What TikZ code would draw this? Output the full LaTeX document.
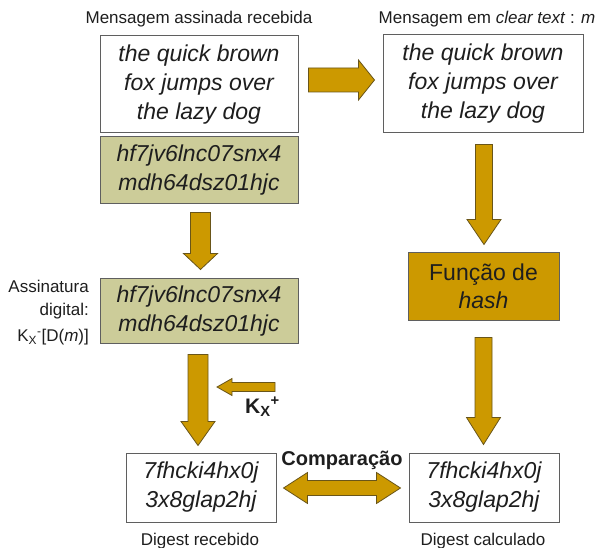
\documentclass[tikz,border=0pt]{standalone}
\usepackage{fontspec}
\setmainfont{Liberation Sans}
\usetikzlibrary{calc}

\definecolor{arrowgold}{RGB}{204,153,0}
\definecolor{sigfill}{RGB}{204,204,153}
\definecolor{goldedge}{RGB}{105,85,25}
\definecolor{boxedge}{RGB}{95,95,95}
\definecolor{ink}{RGB}{30,30,30}

\tikzset{
  msgbox/.style={draw=boxedge, line width=1pt, fill=white, inner sep=0pt,
    align=center, text=ink, font=\fontsize{23}{29}\selectfont\itshape},
  sigbox/.style={msgbox, fill=sigfill},
  hashbox/.style={msgbox, fill=arrowgold, font=\fontsize{23}{28}\selectfont},
  caption/.style={inner sep=0pt, text=ink, font=\fontsize{17}{23}\selectfont},
  boldlabel/.style={inner sep=0pt, text=ink, font=\fontsize{20}{24}\selectfont\bfseries},
  arrowbody/.style={draw=goldedge, line width=0.8pt, fill=arrowgold, line join=miter},
}

% block arrow: from, to, shaft half-width, head half-width, head length
\newcommand\blockarrow[5]{%
  \path let \p1=(#1), \p2=(#2),
    \n1={atan2(\y2-\y1,\x2-\x1)}, \n2={veclen(\x2-\x1,\y2-\y1)} in
    \pgfextra{\pgfmathparse{\n1}\xdef\baAngle{\pgfmathresult}%
              \pgfmathparse{\n2}\xdef\baLen{\pgfmathresult}};
  \draw[arrowbody, shift={(#1)}, rotate=\baAngle]
    (0,-#3) -- ({\baLen-#5},-#3) -- ({\baLen-#5},-#4) -- (\baLen,0)
    -- ({\baLen-#5},#4) -- ({\baLen-#5},#3) -- (0,#3) -- cycle;
}
% double-headed block arrow, same arguments
\newcommand\dblarrow[5]{%
  \path let \p1=(#1), \p2=(#2),
    \n1={atan2(\y2-\y1,\x2-\x1)}, \n2={veclen(\x2-\x1,\y2-\y1)} in
    \pgfextra{\pgfmathparse{\n1}\xdef\baAngle{\pgfmathresult}%
              \pgfmathparse{\n2}\xdef\baLen{\pgfmathresult}};
  \draw[arrowbody, shift={(#1)}, rotate=\baAngle]
    (0,0) -- (#5,-#4) -- (#5,-#3) -- ({\baLen-#5},-#3) -- ({\baLen-#5},-#4)
    -- (\baLen,0) -- ({\baLen-#5},#4) -- ({\baLen-#5},#3) -- (#5,#3)
    -- (#5,#4) -- cycle;
}

\begin{document}
\begin{tikzpicture}[x=1pt, y=-1pt]
  \useasboundingbox[fill=white] (0,0) rectangle (600,548);

  % captions above the two columns
  \node[caption, anchor=base] (received) at (199,24) {Mensagem assinada recebida};
  \node[caption, anchor=base] (cleartext) at (487,24)
    {Mensagem em \textit{clear text} : \textit{m}};

  % received message and its signature
  \node[msgbox, minimum width=198pt, minimum height=97pt] (msg1) at (199,84.5)
    {the quick brown\\fox jumps over\\the lazy dog};
  \node[sigbox, minimum width=198pt, minimum height=67pt] (sig1) at (199,170.5)
    {hf7jv6lnc07snx4\\mdh64dsz01hjc};
  \node[sigbox, minimum width=198pt, minimum height=64pt] (sig2) at (199,311)
    {hf7jv6lnc07snx4\\mdh64dsz01hjc};
  \node[caption, anchor=north east, align=right] (siglabel) at (89,280)
    {Assinatura\\digital:\\[3pt]K\textsubscript{X}\textsuperscript{-}[D(\textit{m})]};

  % clear text and hash function
  \node[msgbox, minimum width=200pt, minimum height=98pt] (msg2) at (483,84)
    {the quick brown\\fox jumps over\\the lazy dog};
  \node[hashbox, minimum width=151pt, minimum height=67pt] (hash) at (483.5,286.5)
    {Função de\\\textit{hash}};

  % digests
  \node[msgbox, minimum width=150pt, minimum height=69pt] (dig1) at (201,487.5)
    {7fhcki4hx0j\\3x8glap2hj};
  \node[msgbox, minimum width=150pt, minimum height=69pt] (dig2) at (484,487.5)
    {7fhcki4hx0j\\3x8glap2hj};
  \node[caption, anchor=base] (diglabel1) at (200,545) {Digest recebido};
  \node[caption, anchor=base] (diglabel2) at (483,545) {Digest calculado};

  % public key and comparison labels
  \node[boldlabel, font=\fontsize{21}{24}\selectfont\bfseries, anchor=base west]
    (kplus) at (245,413) {K\textsubscript{X}\textsuperscript{+}};
  \node[boldlabel, anchor=base] (cmp) at (342,465) {Comparação};
  \coordinate (ktail) at (275,387);
  \coordinate (ktip) at (217,387);

  % block arrows
  \blockarrow{$(msg1.east)+(10,-4.5)$}{$(msg2.west)+(-8,-4)$}{12}{20}{16}
  \blockarrow{$(sig1.south)+(1.5,8)$}{$(sig2.north)+(1.5,-9)$}{10}{17}{16}
  \blockarrow{$(msg2.south)+(1,11)$}{$(hash.north)+(0.5,-8)$}{8.5}{17}{25}
  \blockarrow{$(hash.south)+(0,17)$}{$(dig2.north)+(-0.5,-8)$}{8.5}{17}{27}
  \blockarrow{$(sig2.south)+(-1,11)$}{$(dig1.north)+(-3,-7)$}{10}{17}{24}
  \blockarrow{ktail}{ktip}{4.5}{8.5}{15}
  \dblarrow{$(dig1.east)+(7,0.5)$}{$(dig2.west)+(-8,0.5)$}{7.5}{15.5}{24}
\end{tikzpicture}
\end{document}
